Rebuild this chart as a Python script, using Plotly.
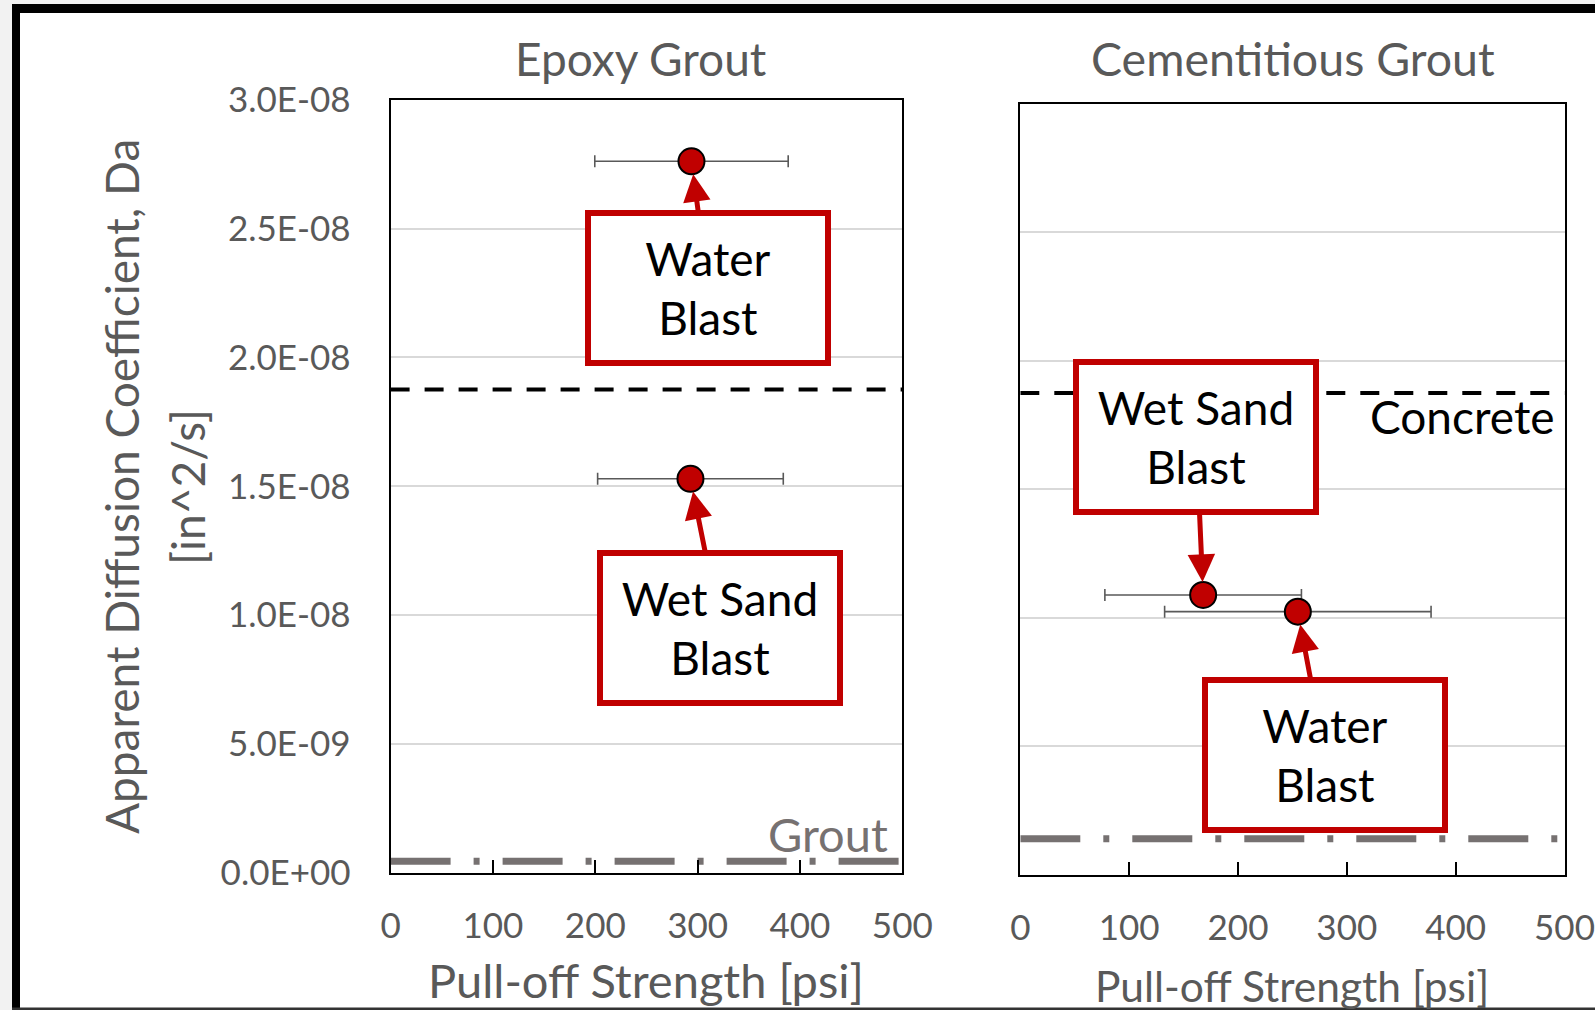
import plotly.graph_objects as go

# ---------------- data ----------------
panels = ["Epoxy Grout", "Cementitious Grout"]
preps = ["Water Blast", "Wet Sand Blast"]

epoxy_strength = [294, 293]          # psi
epoxy_strength_err = [94.5, 90.7]    # psi
epoxy_da = [2.761e-8, 1.529e-8]      # in^2/s

cem_strength = [255, 168]            # Water Blast, Wet Sand Blast
cem_strength_err = [122.4, 90.3]
cem_da = [1.024e-8, 1.089e-8]

concrete_da = 1.875e-8
grout_da = [4.5e-10, 1.40e-9]        # epoxy, cementitious

x_ticks = [0, 100, 200, 300, 400, 500]
y_ticks = [0, 5e-9, 1e-8, 1.5e-8, 2e-8, 2.5e-8, 3e-8]
y_tick_labels = ["0.0E+00", "5.0E-09", "1.0E-08", "1.5E-08", "2.0E-08", "2.5E-08", "3.0E-08"]
x_range = [0, 500]
y_range = [0, 3e-8]

# ---------------- style ----------------
W, H = 1595, 1010
RED = "#C00000"
GRAY = "#595959"
FONT = "Lato"


def px(x):
    return x / W


def py(y):
    return 1 - y / H


fig = go.Figure()

marker = dict(size=26, color=RED, line=dict(color="black", width=2))
errx = lambda arr: dict(type="data", array=arr, color=GRAY, thickness=1.6, width=6)

# reference lines
for xa, ya, g in [("x", "y", grout_da[0]), ("x2", "y2", grout_da[1])]:
    fig.add_trace(go.Scatter(x=x_range, y=[concrete_da, concrete_da], xaxis=xa, yaxis=ya,
                             mode="lines", line=dict(color="black", width=4, dash="19px,15px"),
                             showlegend=False, hoverinfo="skip", cliponaxis=False))
    fig.add_trace(go.Scatter(x=x_range, y=[g, g], xaxis=xa, yaxis=ya,
                             mode="lines", line=dict(color="#767171", width=7, dash="60px,23px,6px,23px"),
                             showlegend=False, hoverinfo="skip", cliponaxis=False))

# data points
fig.add_trace(go.Scatter(x=epoxy_strength, y=epoxy_da, error_x=errx(epoxy_strength_err),
                         mode="markers", marker=marker, xaxis="x", yaxis="y",
                         showlegend=False, cliponaxis=False, text=preps))
fig.add_trace(go.Scatter(x=cem_strength, y=cem_da, error_x=errx(cem_strength_err),
                         mode="markers", marker=marker, xaxis="x2", yaxis="y2",
                         showlegend=False, cliponaxis=False, text=preps))

axis_common = dict(showline=True, linecolor="black", linewidth=2, mirror=True, zeroline=False,
                   automargin=False)
xaxis_common = dict(axis_common, range=x_range, tickvals=x_ticks, ticks="inside", ticklen=13,
                    tickwidth=2, tickcolor="black", showgrid=False,
                    tickfont=dict(family=FONT, size=35, color=GRAY), ticklabelstandoff=21)
yaxis_common = dict(axis_common, range=y_range, tickvals=y_ticks, ticktext=y_tick_labels,
                    ticks="", showgrid=True, gridcolor="#d9d9d9", gridwidth=1.5,
                    tickfont=dict(family=FONT, size=35, color=GRAY))

fig.update_layout(
    width=W, height=H, margin=dict(l=0, r=0, t=0, b=0, pad=0, autoexpand=False),
    paper_bgcolor="white", plot_bgcolor="white", showlegend=False,
    xaxis=dict(xaxis_common, domain=[px(390.6), px(902.3)], anchor="y"),
    yaxis=dict(yaxis_common, domain=[py(872.8), py(99.7)], anchor="x", ticklabelstandoff=31),
    xaxis2=dict(xaxis_common, domain=[px(1020.3), px(1564.5)], anchor="y2"),
    yaxis2=dict(yaxis_common, domain=[py(874.8), py(103.8)], anchor="x2", showticklabels=False),
)

ann = []


def text_ann(x, y, text, size, color=GRAY, xanchor="center", angle=0):
    ann.append(dict(x=px(x), y=py(y), xref="paper", yref="paper", text=text, showarrow=False,
                    xanchor=xanchor, yanchor="middle", textangle=angle,
                    font=dict(family=FONT, size=size, color=color)))


text_ann(641, 58, panels[0], 46)
text_ann(1293, 58, panels[1], 46.5)
text_ann(646, 980, "Pull-off Strength [psi]", 47)
text_ann(1292, 985, "Pull-off Strength [psi]", 42.5)
text_ann(121, 487, "Apparent Diffusion Coefficient, Da", 46, angle=-90)
text_ann(187, 487, "[in^2/s]", 46, angle=-90)
text_ann(1557, 417, "Concrete", 46, color="black", xanchor="right")
text_ann(890, 834, "Grout", 47, color="#767171", xanchor="right")

# callout boxes with arrows
callouts = [
    ("x", "y", epoxy_strength[0], epoxy_da[0], "Water<br>Blast", 17, 127),
    ("x", "y", epoxy_strength[1], epoxy_da[1], "Wet Sand<br>Blast", 30, 149),
    ("x2", "y2", cem_strength[1], cem_da[1], "Wet Sand<br>Blast", -7, -158),
    ("x2", "y2", cem_strength[0], cem_da[0], "Water<br>Blast", 27, 143),
]
for xa, ya, x, y, t, ax, ay in callouts:
    ann.append(dict(x=x, y=y, xref=xa, yref=ya, text=t, showarrow=True, ax=ax, ay=ay,
                    arrowhead=2, arrowsize=1.1, arrowwidth=5, arrowcolor=RED, standoff=13,
                    bordercolor=RED, borderwidth=6, borderpad=0, bgcolor="white",
                    width=234, height=144, align="center",
                    font=dict(family=FONT, size=46, color="black")))

fig.update_layout(annotations=ann)

# outer screenshot frame
shapes = [
    dict(type="rect", xref="paper", yref="paper", x0=0, x1=px(12), y0=0, y1=1,
         fillcolor="#f2f2f2", line=dict(width=0)),
    dict(type="rect", xref="paper", yref="paper", x0=0, x1=1, y0=py(4), y1=1,
         fillcolor="#f2f2f2", line=dict(width=0)),
    dict(type="rect", xref="paper", yref="paper", x0=px(12), x1=px(20), y0=0, y1=py(4),
         fillcolor="black", line=dict(width=0)),
    dict(type="rect", xref="paper", yref="paper", x0=px(12), x1=1, y0=py(13), y1=py(4),
         fillcolor="black", line=dict(width=0)),
    dict(type="rect", xref="paper", yref="paper", x0=px(12), x1=1, y0=0, y1=py(1007.5),
         fillcolor="#333333", line=dict(width=0)),
]
fig.update_layout(shapes=shapes)

fig.write_html("out.html", config={"displayModeBar": False},
               post_script="document.body.style.margin='0';document.body.style.overflow='hidden';")
